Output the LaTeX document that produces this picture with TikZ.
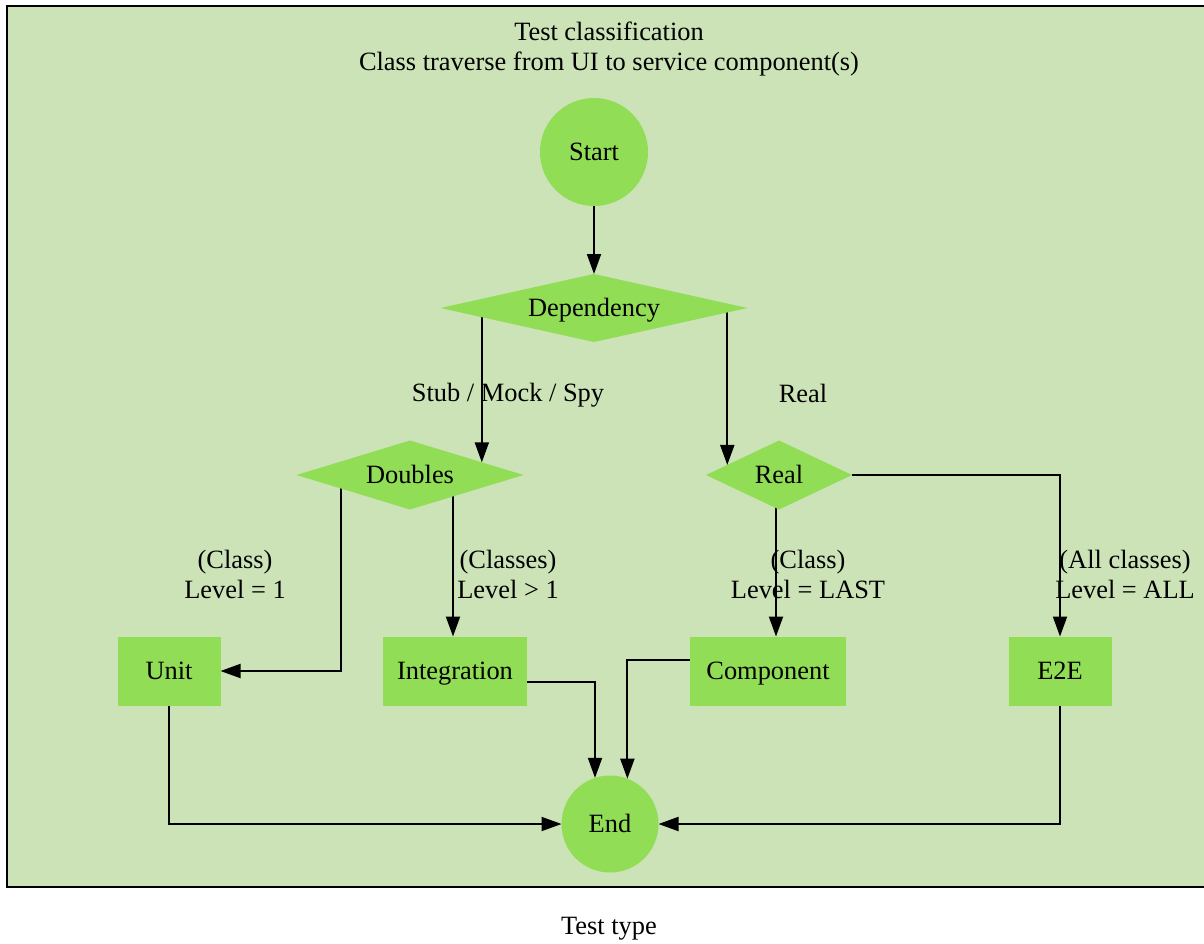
\documentclass[tikz,border=0pt]{standalone}
\usepackage{fontspec}
\setmainfont{Liberation Serif}
\usetikzlibrary{shapes.geometric,arrows.meta}
\pgfdeclarelayer{panel}
\pgfdeclarelayer{links}
\pgfsetlayers{panel,links,main}
\definecolor{panelgreen}{RGB}{203,227,183}
\definecolor{nodegreen}{RGB}{145,221,85}
\begin{document}
\begin{tikzpicture}[x=0.5pt,y=-0.5pt,
  every node/.style={font=\fontsize{13.2}{15}\selectfont, inner sep=0pt, outer sep=0pt, align=center},
  shaped/.style={fill=nodegreen, text height=10.4pt, text depth=1.8pt},
  terminal/.style={shaped, circle},
  decision/.style={shaped, diamond, minimum height=34.5pt},
  outcome/.style={shaped, rectangle, minimum height=34.5pt},
  link/.style={line width=0.95pt, -{Triangle[length=10pt,width=7pt]}}]
\useasboundingbox (0,0) rectangle (1204,943);

% page and cluster panel
\begin{pgfonlayer}{panel}
  \fill[white] (0,0) rectangle (1204,943);
  \fill[panelgreen] (7,6) rectangle (1204,887);
  \draw[line width=1pt] (1204,6) -- (7,6) -- (7,887) -- (1204,887);
\end{pgfonlayer}

\node (title) at (609,49) {Test classification\\Class traverse from UI to service component(s)};
\node (foot) at (609,929) {Test type};

% nodes
\node[terminal, minimum size=54pt] (start) at (594,152) {Start};
\node[decision, aspect=4.5, minimum width=153.5pt, minimum height=34pt] (dep) at (594,308) {Dependency};
\node[decision, aspect=3.29, minimum width=113.5pt] (doubles) at (410,475) {Doubles};
\node[decision, aspect=2.12, minimum width=73pt] (real) at (779,475) {Real};
\node[outcome, minimum width=51.5pt] (unit) at (169,671) {Unit};
\node[outcome, minimum width=72pt] (integ) at (455,671) {Integration};
\node[outcome, minimum width=78pt] (comp) at (768,671) {Component};
\node[outcome, minimum width=51.5pt] (e2e) at (1060,671) {E2E};
\node[terminal, minimum size=48.5pt] (end) at (610,824) {End};

% edge labels
\node (lstub) at (508,395) {Stub / Mock / Spy};
\node (lreal) at (803,393) {Real};
\node (l1) at (235,574) {(Class)\\Level = 1};
\node (l2) at (508,574) {(Classes)\\Level > 1};
\node (l3) at (808,574) {(Class)\\Level = LAST};
\node (l4) at (1125,574) {(All classes)\\Level = ALL};

\coordinate (d2) at ([xshift=21.5pt]doubles.center);
\coordinate (r1) at ([xshift=-1.5pt]real.center);

% connectors
\begin{pgfonlayer}{links}
  \draw[link] (start) -- (dep);
  \draw[link] (doubles.10.3 |- dep.center) -- (doubles.10.3);
  \draw[link] (real.169.9 |- dep.center) -- (real.169.9);
  \draw[link] ([xshift=-34.5pt]doubles.center) |- (unit);
  \draw[link] (d2) -- (d2 |- integ.north);
  \draw[link] (r1) -- (r1 |- comp.north);
  \draw[link] (real.east) -| (e2e);
  \draw[link] (unit) |- (end);
  \draw[link] ([yshift=-5.5pt]integ.east) -| (end.108.2);
  \draw[link] ([yshift=5.5pt]comp.west) -| (end.69.3);
  \draw[link] (e2e) |- (end);
\end{pgfonlayer}
\end{tikzpicture}
\end{document}
